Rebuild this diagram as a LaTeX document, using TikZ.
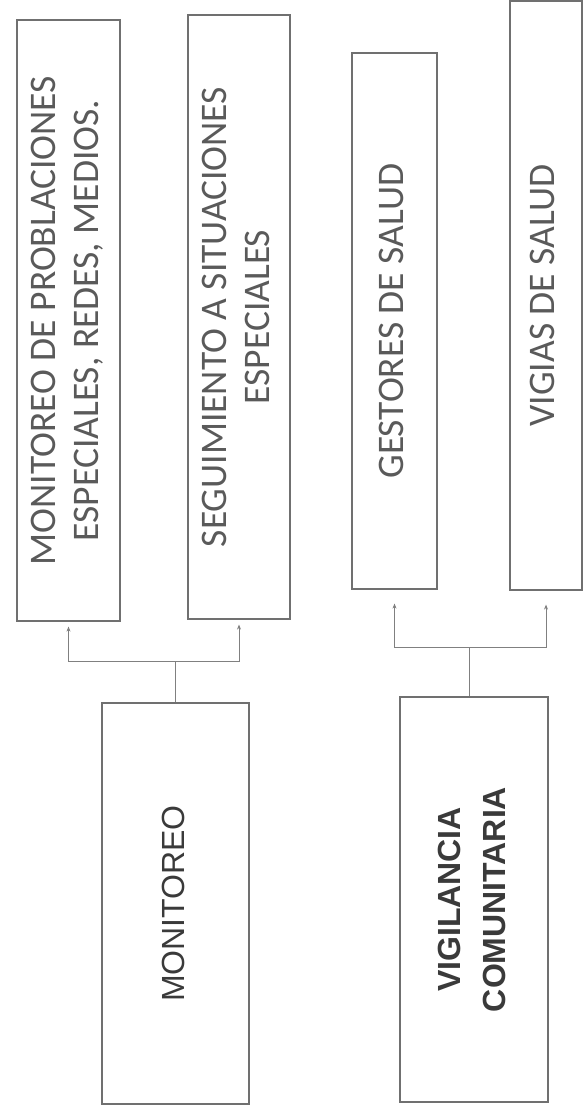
\documentclass[tikz,border=0pt]{standalone}
\usepackage{fontspec}
\usepackage{graphicx}
\setmainfont{Carlito}
\newfontfamily\arialfont{Liberation Sans}
\usetikzlibrary{arrows.meta,calc}
\definecolor{boxgray}{HTML}{707070}
\definecolor{txtgray}{HTML}{5A5A5A}
\definecolor{txtdark}{HTML}{3A3A3A}
\definecolor{linegray}{HTML}{808080}
\newcommand{\vtext}[1]{\rotatebox{90}{\begin{tabular}{@{}c@{}}#1\end{tabular}}}
\begin{document}
\begin{tikzpicture}[x=1pt,y=-1pt,
  boxstyle/.style={draw=boxgray,line width=1.2pt,rectangle,inner sep=0pt,align=center},
  topbox/.style={boxstyle,text=txtgray,font=\fontsize{37.5}{43}\selectfont},
  lowbox/.style={boxstyle,text=txtdark,font=\arialfont\fontsize{32}{45}\selectfont},
  conn/.style={draw=linegray,line width=1pt},
  arr/.style={-{Stealth[length=5pt,width=4pt]}}]
\useasboundingbox (0,0) rectangle (585,1112);
\fill[white] (0,0) rectangle (585,1112);
% upper boxes
\node[topbox,minimum width=103pt,minimum height=601pt] (A) at (68.5,320.5)
  {\vtext{MONITOREO DE PROBLACIONES\\ESPECIALES, REDES, MEDIOS.}};
\node[topbox,minimum width=102pt,minimum height=604pt] (B) at (239,317)
  {\vtext{SEGUIMIENTO A SITUACIONES\\ESPECIALES}};
\node[topbox,minimum width=85pt,minimum height=536pt] (C) at (394.5,321)
  {\vtext{GESTORES DE SALUD}};
\node[topbox,minimum width=72pt,minimum height=589pt] (D) at (546,295.5)
  {\vtext{VIGIAS DE SALUD}};
% lower boxes
\node[lowbox,minimum width=147pt,minimum height=401pt] (E) at (175.5,903.5)
  {\vtext{MONITOREO}};
\node[lowbox,minimum width=148pt,minimum height=405pt] (F) at (474,899.5)
  {\vtext{\bfseries VIGILANCIA\\\bfseries COMUNITARIA}};
% left connectors
\coordinate (lbar) at ($(E.north)+(0,-41)$);
\draw[conn] (E.north) -- (lbar);
\draw[conn,arr,shorten >=5pt] (lbar) -| (A.south);
\draw[conn,arr,shorten >=5pt] (lbar) -| (B.south);
% right connectors
\coordinate (rbar) at ($([xshift=-5pt]F.north)+(0,-49)$);
\draw[conn] ([xshift=-5pt]F.north) -- (rbar);
\draw[conn,arr,shorten >=14pt] (rbar) -| (C.south);
\draw[conn,arr,shorten >=14pt] (rbar) -| (D.south);
\end{tikzpicture}
\end{document}
